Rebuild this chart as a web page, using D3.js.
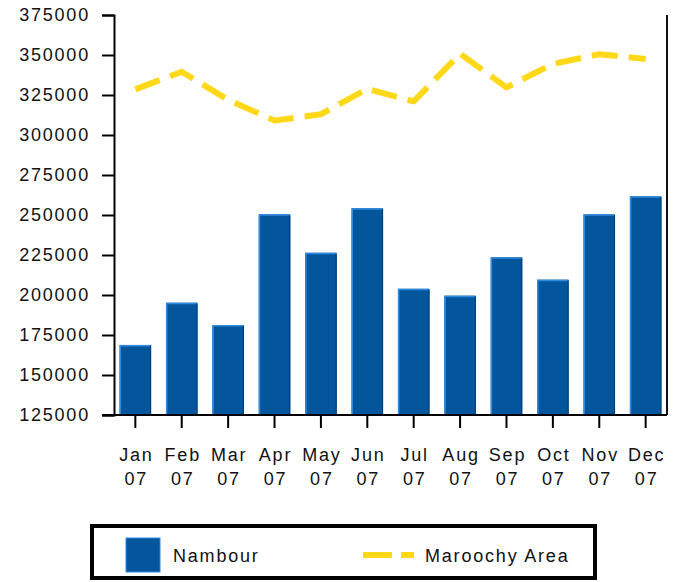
<!DOCTYPE html>
<html>
<head>
<meta charset="utf-8">
<script src="https://cdn.jsdelivr.net/npm/d3@7"></script>
<style>
  body { margin: 0; background: #fff; }
  text { font-family: "Liberation Sans", Arial, sans-serif; font-size: 18px; letter-spacing: 1.8px; fill: #111; }
</style>
</head>
<body>
<div id="chart"></div>
<script>
const months = ["Jan", "Feb", "Mar", "Apr", "May", "Jun", "Jul", "Aug", "Sep", "Oct", "Nov", "Dec"];
const yearLabel = "07";
const nambour = [168800, 195200, 181200, 250400, 226400, 254200, 203900, 199600, 223600, 209600, 250400, 261700];
const maroochy = [328500, 339500, 322000, 309000, 313000, 328800, 321000, 350800, 329800, 344400, 350500, 347500];
const yTicks = [125000, 150000, 175000, 200000, 225000, 250000, 275000, 300000, 325000, 350000, 375000];

(function () {
  const width = 679;
  const height = 582;
  const plotLeft = 114, plotRight = 667, plotTop = 15, plotBottom = 415;

  const svg = d3.select("#chart")
    .append("svg")
    .attr("width", width)
    .attr("height", height);

  const x = d3.scaleBand()
    .domain(months)
    .range([plotLeft, plotRight])
    .paddingInner(0.32)
    .paddingOuter(0.12);

  const y = d3.scaleLinear()
    .domain([125000, 375000])
    .range([plotBottom, plotTop]);

  // bars
  const bars = svg.append("g")
    .selectAll("g.bar")
    .data(months.map((m, i) => ({ m, v: nambour[i] })))
    .join("g")
    .attr("class", "bar");

  bars.append("rect")
    .attr("x", d => x(d.m))
    .attr("y", d => y(d.v))
    .attr("width", x.bandwidth())
    .attr("height", d => plotBottom - y(d.v))
    .attr("fill", "#03559c");

  // light bevel on left/top edge, dark on right
  bars.append("path")
    .attr("d", d => `M${x(d.m) + 0.75},${plotBottom} V${y(d.v) + 0.75} H${x(d.m) + x.bandwidth() - 1}`)
    .attr("fill", "none")
    .attr("stroke", "#2f8ae0")
    .attr("stroke-width", 1.5);
  bars.append("path")
    .attr("d", d => `M${x(d.m) + x.bandwidth() - 0.5},${y(d.v) + 1} V${plotBottom}`)
    .attr("fill", "none")
    .attr("stroke", "#013a6e")
    .attr("stroke-width", 1);

  // line
  const line = d3.line()
    .x((d, i) => x(months[i]) + x.bandwidth() / 2)
    .y(d => y(d));

  svg.append("path")
    .datum(maroochy)
    .attr("d", line)
    .attr("fill", "none")
    .attr("stroke", "#ffd81a")
    .attr("stroke-width", 6)
    .attr("stroke-dasharray", "26,11")
    .attr("stroke-linejoin", "round");

  // left axis
  const yAxis = svg.append("g")
    .attr("transform", `translate(${plotLeft},0)`)
    .call(d3.axisLeft(y).tickValues(yTicks).tickFormat(d3.format("d")).tickSize(12).tickPadding(12));
  yAxis.select(".domain").attr("stroke-width", 2);
  yAxis.selectAll(".tick line").attr("stroke-width", 2);
  yAxis.selectAll("text").attr("font-size", null).attr("font-family", null).attr("fill", "#111");

  // right line
  svg.append("line")
    .attr("x1", plotRight).attr("x2", plotRight)
    .attr("y1", plotTop).attr("y2", plotBottom)
    .attr("stroke", "#111")
    .attr("stroke-width", 2);

  // bottom axis
  const xAxis = svg.append("g")
    .attr("transform", `translate(0,${plotBottom})`)
    .call(d3.axisBottom(x).tickSize(13).tickFormat(""));
  xAxis.select(".domain").attr("d", `M${plotLeft - 12},0H${plotRight}`).attr("stroke-width", 2);
  xAxis.selectAll(".tick line").attr("stroke-width", 2);

  const xl = svg.append("g")
    .selectAll("text")
    .data(months)
    .join("text")
    .attr("text-anchor", "middle")
    .attr("transform", d => `translate(${x(d) + x.bandwidth() / 2 + 1},0)`);
  xl.append("tspan").attr("x", 0).attr("y", 461).text(d => d);
  xl.append("tspan").attr("x", 0).attr("y", 485).text(yearLabel);

  // legend
  const legend = svg.append("g");
  legend.append("rect")
    .attr("x", 92).attr("y", 526)
    .attr("width", 503).attr("height", 52)
    .attr("fill", "#fff")
    .attr("stroke", "#000")
    .attr("stroke-width", 4);
  legend.append("rect")
    .attr("x", 126).attr("y", 538)
    .attr("width", 34).attr("height", 34)
    .attr("fill", "#03559c")
    .attr("stroke", "#2f8ae0")
    .attr("stroke-width", 1);
  legend.append("text")
    .attr("x", 173).attr("y", 562)
    .text("Nambour");
  legend.append("line")
    .attr("x1", 363).attr("x2", 414)
    .attr("y1", 555).attr("y2", 555)
    .attr("stroke", "#ffd81a")
    .attr("stroke-width", 6)
    .attr("stroke-dasharray", "29,9");
  legend.append("text")
    .attr("x", 425).attr("y", 562)
    .text("Maroochy Area");
})();
</script>
</body>
</html>
